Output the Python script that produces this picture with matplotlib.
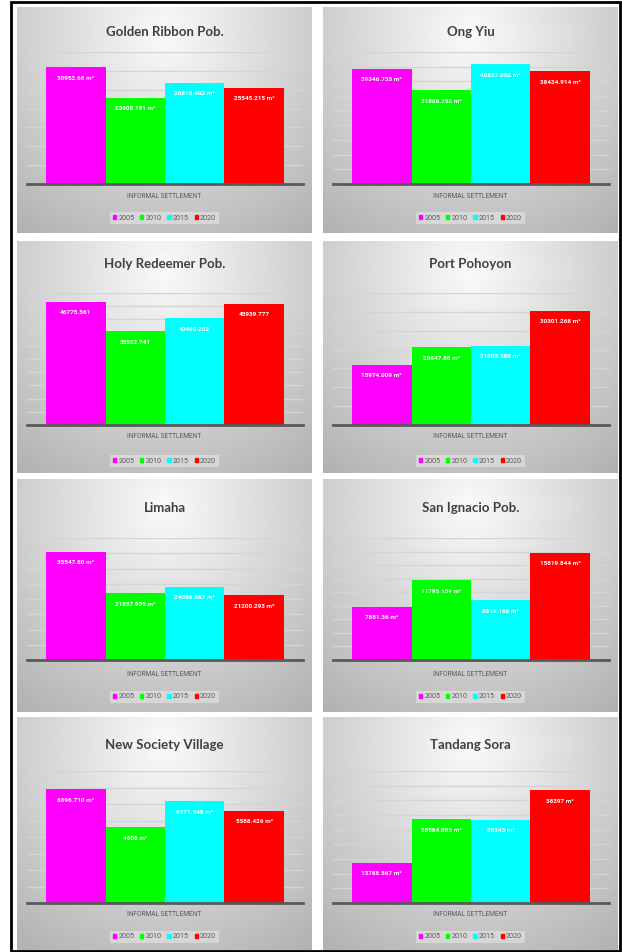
import matplotlib
matplotlib.use("Agg")
import matplotlib.pyplot as plt
import numpy as np
from matplotlib.patches import Patch, Rectangle

# data, as printed on the bars
years = ["2005", "2010", "2015", "2020"]
colors = ["#ff00ff", "#00ff00", "#00ffff", "#ff0000"]

places = ["Golden Ribbon Pob.", "Ong Yiu",
          "Holy Redeemer Pob.", "Port Pohoyon",
          "Limaha", "San Ignacio Pob.",
          "New Society Village", "Tandang Sora"]
golden_ribbon = ["30952.68", "22900.191", "26815.402", "25545.215"]
ong_yiu = ["39346.735", "31886.752", "40837.052", "38434.914"]
holy_redeemer = ["46775.561", "35522.741", "40499.202", "45939.777"]
port_pohoyon = ["15974.009", "20647.88", "21003.589", "30301.268"]
limaha = ["35547.80", "21857.935", "24056.567", "21200.293"]
san_ignacio = ["7851.36", "11795.159", "8819.188", "15819.844"]
new_society = ["6896.710", "4608", "6171.548", "5588.426"]
tandang_sora = ["13788.567", "28584.085", "28343", "38397"]
all_values = [golden_ribbon, ong_yiu, holy_redeemer, port_pohoyon,
              limaha, san_ignacio, new_society, tandang_sora]
units = [" m²", " m²", "", " m²", " m²", " m²", " m²", " m²"]
ymax = [35000, 45000, 50000, 35000, 40000, 18000, 8000, 45000]
ystep = [5000, 5000, 5000, 5000, 5000, 2000, 1000, 5000]
xlabel = "INFORMAL SETTLEMENT"

W, H = 622, 952
fig = plt.figure(figsize=(W / 100, H / 100), dpi=100)
fig.patch.set_facecolor("white")

def box(x0, y0, x1, y1):
    return [x0 / W, 1 - y1 / H, (x1 - x0) / W, (y1 - y0) / H]

# pixel layout of the panels
panel_top = [7, 241, 479, 717]
panel_bot = [233, 473, 712, 950]
plot_top = [52, 293, 538, 771]
base_y = [184, 425, 660, 903]
title_y = [32, 264, 508, 745]
xlab_y = [197, 437, 675, 915]
leg_y = [218, 461, 697, 937]
panel_x = [(17, 312), (323, 618)]
plot_x = [(27, 303), (333, 609)]

gy, gx = np.mgrid[0:1:200j, 0:1:200j]
r = np.sqrt(((gx - 0.5) / 0.75) ** 2 + ((gy - 0.12) / 1.0) ** 2)
grad = np.clip(0.98 - 0.26 * r, 0, 1)

small_font = ["Roboto", "DejaVu Sans"]

for i, name in enumerate(places):
    row, col = divmod(i, 2)
    px0, px1 = panel_x[col]
    # gradient background
    bg = fig.add_axes(box(px0, panel_top[row], px1, panel_bot[row]))
    bg.imshow(grad, cmap="gray", vmin=0, vmax=1, aspect="auto",
              extent=[0, 1, 0, 1], interpolation="bilinear")
    bg.set_axis_off()

    vals = [float(v) for v in all_values[i]]
    qx0, qx1 = plot_x[col]
    ax = fig.add_axes(box(qx0, plot_top[row], qx1, base_y[row]))
    ax.patch.set_alpha(0)
    ax.bar(range(4), vals, width=1.0, color=colors, zorder=3)
    ax.set_xlim(-0.82, 3.82)
    ax.set_ylim(0, ymax[i])
    ax.set_yticks(np.arange(0, ymax[i] + 1, ystep[i]))
    ax.yaxis.grid(True, color="#d4d4d4", lw=1)
    ax.set_axisbelow(True)
    ax.tick_params(left=False, bottom=False, labelleft=False, labelbottom=False)
    for s in ["top", "left", "right"]:
        ax.spines[s].set_visible(False)
    ax.spines["bottom"].set_color("#595959")
    ax.spines["bottom"].set_linewidth(2)
    ax.spines["bottom"].set_zorder(4)

    for k, v in enumerate(vals):
        ax.annotate(all_values[i][k] + units[i], (k, v), xytext=(0, -8),
                    textcoords="offset points", ha="center", va="center",
                    color="white", fontsize=4.6, fontweight="bold",
                    family=small_font, zorder=5)

    cx = (px0 + px1) / 2 / W
    fig.text(cx, 1 - title_y[row] / H, name, ha="center", va="center",
             fontsize=9.5, fontweight="bold", color="#404040", family="Lato")
    fig.text(cx, 1 - xlab_y[row] / H, xlabel, ha="center", va="center",
             fontsize=4.8, color="#595959", family=small_font)

    handles = [Patch(color=c) for c in colors]
    leg = ax.legend(handles, years, ncol=4, loc="center",
                    bbox_to_anchor=(cx, 1 - leg_y[row] / H),
                    bbox_transform=fig.transFigure, fontsize=5.2,
                    handlelength=0.45, handleheight=0.45, handletextpad=0.3,
                    columnspacing=0.8, borderpad=0.4, frameon=True,
                    fancybox=False)
    leg.get_frame().set_facecolor("white")
    leg.get_frame().set_alpha(0.35)
    leg.get_frame().set_linewidth(0)
    for t in leg.get_texts():
        t.set_color("#595959")
        t.set_family(small_font)

# outer black frame
fig.patches.append(Rectangle((11 / W, 1 / H), (W - 13) / W, (H - 3) / H,
                             transform=fig.transFigure, fill=False,
                             edgecolor="black", lw=2))

fig.savefig("out.png", dpi=100)
